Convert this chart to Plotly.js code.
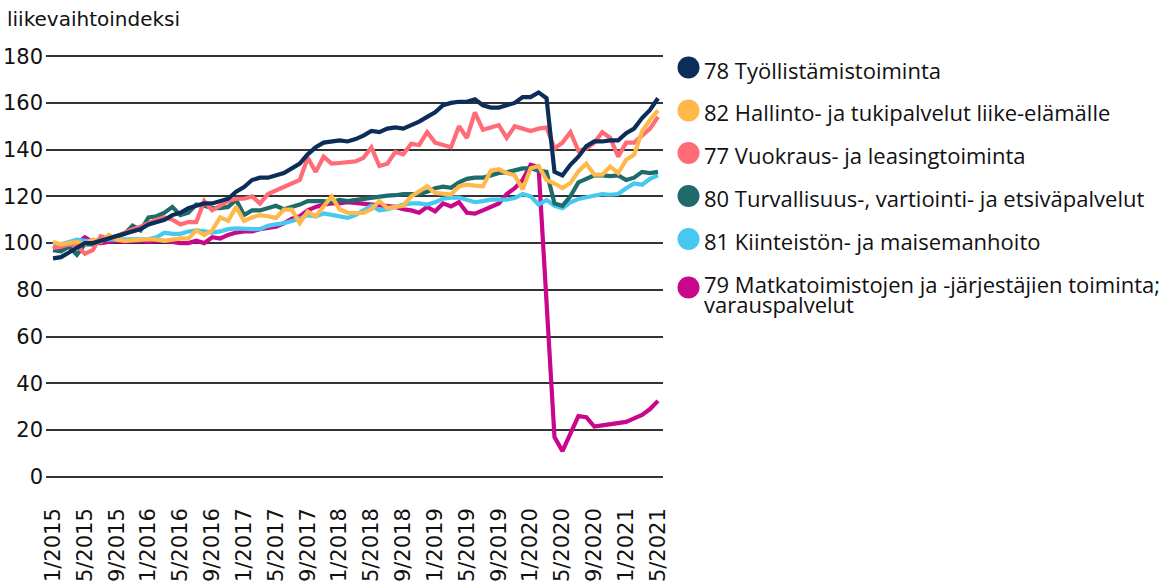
<!DOCTYPE html>
<html>
<head>
<meta charset="utf-8">
<script src="https://cdn.plot.ly/plotly-3.0.1.min.js"></script>
<style>
  html, body { margin: 0; padding: 0; background: #ffffff; }
  #chart { width: 1170px; height: 587px; }
</style>
</head>
<body>
<div id="chart"></div>
<script>
// Months 1/2015 ... 5/2021 (77 monthly observations), index 0..76
const monthLabels = [
  "1/2015","2/2015","3/2015","4/2015","5/2015","6/2015","7/2015","8/2015","9/2015","10/2015","11/2015","12/2015",
  "1/2016","2/2016","3/2016","4/2016","5/2016","6/2016","7/2016","8/2016","9/2016","10/2016","11/2016","12/2016",
  "1/2017","2/2017","3/2017","4/2017","5/2017","6/2017","7/2017","8/2017","9/2017","10/2017","11/2017","12/2017",
  "1/2018","2/2018","3/2018","4/2018","5/2018","6/2018","7/2018","8/2018","9/2018","10/2018","11/2018","12/2018",
  "1/2019","2/2019","3/2019","4/2019","5/2019","6/2019","7/2019","8/2019","9/2019","10/2019","11/2019","12/2019",
  "1/2020","2/2020","3/2020","4/2020","5/2020","6/2020","7/2020","8/2020","9/2020","10/2020","11/2020","12/2020",
  "1/2021","2/2021","3/2021","4/2021","5/2021"
];

// Tick labels shown on the x axis (every fourth month)
const tickLabels = ["1/2015","5/2015","9/2015","1/2016","5/2016","9/2016","1/2017","5/2017","9/2017","1/2018",
  "5/2018","9/2018","1/2019","5/2019","9/2019","1/2020","5/2020","9/2020","1/2021","5/2021"];

const yTicks = [0, 20, 40, 60, 80, 100, 120, 140, 160, 180];

const seriesNames = [
  "78 Työllistämistoiminta",
  "82 Hallinto- ja tukipalvelut liike-elämälle",
  "77 Vuokraus- ja leasingtoiminta",
  "80 Turvallisuus-, vartiointi- ja etsiväpalvelut",
  "81 Kiinteistön- ja maisemanhoito",
  "79 Matkatoimistojen ja -järjestäjien toiminta; varauspalvelut"
];

const s78 = [93.5,94,96,98,100,100,101,102,103,104,105,106,
  108,109,110,112,113,115,116,117,117,118,119,122,
  124,127,128,128,129,130,132,134,138,141,143,143.5,
  144,143.5,144.5,146,148,147.5,149,149.5,149,150.5,152,154,
  156,159,160,160.5,160.5,161.5,159,158,158,159,160,162.5,
  162.5,164.5,162,130.5,129,133.5,137,141.5,143.5,143.5,144,144,
  147,149,153.5,157,162];

const s82 = [100.5,99.5,100,100.5,99.5,101.5,100.5,103.5,101.5,101,101.2,101.5,
  101.7,101.5,101,101.5,102,102,105.5,103.5,105.5,111,109.5,115.5,
  109.5,111,112,111.5,110.8,114.3,114.3,108.6,113.5,111.5,116,120,
  114.5,113,112.9,112.9,114.5,118,115,115.5,116,120,122,124.3,
  121.5,121,120.8,124.3,125,124.6,124.3,131,131.6,130,129,123,
  132,133,127,125.5,123.6,125.7,130.7,134,129.3,129.3,132.8,130,
  135.7,137.8,147.8,152.8,156.8];

const s77 = [98,98.5,99.5,99,95.5,97,103,102,103,104.5,106,107,
  108.5,110,111,110,108,109,109,118,114,116,118,119,
  119,120,117,121,122.5,124,125.5,127,136.5,130.5,137,134,
  134.3,134.5,135,136.5,141,133,134,139,138,142.5,142,147.5,
  143,142,141,150,145,156,148.5,149.5,150.5,145,150,149,
  148,149,149.5,140.5,143,147.5,139.5,140.5,143,147.5,145,137,
  143,143,146,149,154];

const s80 = [97,96.5,98.5,95,99.5,99.5,101,102,103,104,107.5,105.5,
  111,111.5,113,115.5,112,113,116.5,116,115,115,115.5,118.5,
  112,114,114,115,116,114.5,115.5,116.5,118,118,118,117.5,
  118.5,118,118.5,119,119.3,120,120.3,120.5,121,121,121,122,
  123.5,124.2,123.7,126,127.5,128,128,129,130,130.3,131,132,
  132,131,130.5,117,116,120,126,127.5,129,129,128.7,129,
  127,128,130.5,130,130.5];

const s81 = [99,99.5,100.5,101.5,101,101,101.5,101.5,101.5,101.5,101.5,101.5,
  101.7,102.5,104.5,104,104,105,105.5,105,104.5,105,106,106.3,
  106,106,106,107.4,108,108.5,109.5,110.5,112,111.5,112.7,112,
  111.2,110.8,112,114,116,114,114.5,115.5,116.5,117,117,116.5,
  117.5,119,119.5,119.5,118.6,117.5,118,118.6,118.6,118.6,119.3,121,
  120,116.5,118.5,116,115,117.5,118.9,119.6,120.5,121,120.7,121,
  123.5,125.5,125,127.5,129];

const s79 = [97.5,98.5,99,100,102.5,100.5,100,100.5,101,100.5,101,101,
  100.5,101,101,100.5,100,100,101,100,102.5,102,103.5,104.5,
  105,105,106,106.5,107,108.5,110.5,111.5,114,115.5,116.5,117,
  117,117.5,117.2,116.7,116.4,116.4,116,115.5,114.5,114,113,115.5,
  113.6,117,115.7,117.5,113,112.6,114,115.5,117,121,123.5,127,
  133.5,132.5,75,17,11,18,26,25.5,21.5,22,22.5,23,
  23.5,25,26.5,29,32.5];

const seriesColors = ["#0c2d5a", "#ffb84a", "#ff6b76", "#1f6b6c", "#47c8ef", "#c8078a"];
const seriesValues = [s78, s82, s77, s80, s81, s79];

// drawing order: magenta at back, navy on top
const drawOrder = [5, 4, 3, 2, 1, 0];

const xIdx = monthLabels.map((_, i) => i);
const tickVals = tickLabels.map(t => monthLabels.indexOf(t));

const traces = drawOrder.map(k => ({
  type: "scatter",
  mode: "lines",
  x: xIdx,
  y: seriesValues[k],
  name: seriesNames[k],
  text: monthLabels,
  hovertemplate: "%{text}: %{y}<extra>" + seriesNames[k] + "</extra>",
  line: { color: seriesColors[k], width: 4.2, shape: "linear" },
  showlegend: false
}));

// Manual legend (circles + text) to the right of the plot
const plotLeft = 46, plotRight = 663, plotTop = 55, plotBottom = 478;
const pw = plotRight - plotLeft, ph = plotBottom - plotTop;
const px2x = px => (px - plotLeft) / pw;
const py2y = py => (plotBottom - py) / ph;

const legendCircleY = [67.5, 110.5, 153, 196, 239, 287.5];
const legendTextY = [69.5, 112, 155, 197.5, 240.5, 283.5];
const legendFont = { family: "'Open Sans', Lato, sans-serif", size: 22, color: "#111111" };
const tickFontFamily = "'DejaVu Sans', Verdana, sans-serif";

const shapes = [];
const annotations = [];
seriesNames.forEach((nm, k) => {
  shapes.push({
    type: "circle", xref: "paper", yref: "paper",
    xsizemode: "pixel", ysizemode: "pixel",
    xanchor: px2x(688.5), yanchor: py2y(legendCircleY[k]),
    x0: -11, x1: 11, y0: -11, y1: 11,
    fillcolor: seriesColors[k], line: { width: 0 }
  });
  if (k === 5) {
    annotations.push({
      xref: "paper", yref: "paper", x: px2x(703), y: py2y(legendTextY[k]),
      xanchor: "left", yanchor: "middle", showarrow: false, borderpad: 0,
      text: "79 Matkatoimistojen ja -järjestäjien toiminta;", font: legendFont
    });
    annotations.push({
      xref: "paper", yref: "paper", x: px2x(703), y: py2y(304),
      xanchor: "left", yanchor: "middle", showarrow: false, borderpad: 0,
      text: "varauspalvelut", font: legendFont
    });
  } else {
    annotations.push({
      xref: "paper", yref: "paper", x: px2x(703), y: py2y(legendTextY[k]),
      xanchor: "left", yanchor: "middle", showarrow: false, borderpad: 0,
      text: nm, font: legendFont
    });
  }
});

const layout = {
  width: 1170, height: 587,
  margin: { l: plotLeft, r: 1170 - plotRight, t: plotTop, b: 587 - plotBottom },
  paper_bgcolor: "#ffffff",
  plot_bgcolor: "#ffffff",
  font: { family: tickFontFamily, size: 20, color: "#111111" },
  title: {
    text: "liikevaihtoindeksi",
    xref: "container", yref: "container",
    x: 7 / 1170, xanchor: "left",
    y: 1 - 19 / 587, yanchor: "middle",
    font: { family: tickFontFamily, size: 20, color: "#111111" }
  },
  xaxis: {
    range: [-0.88, 76.63],
    tickmode: "array",
    tickvals: tickVals,
    ticktext: tickLabels,
    tickangle: -90,
    ticks: "",
    ticklabelstandoff: 25,
    showgrid: false,
    zeroline: false,
    showline: false,
    tickfont: { family: tickFontFamily, size: 21, color: "#111111" },
    fixedrange: true
  },
  yaxis: {
    range: [-0.5, 180.5],
    tickmode: "array",
    tickvals: yTicks,
    ticktext: yTicks.map(String),
    ticks: "",
    ticklabelstandoff: 2,
    showgrid: true,
    gridcolor: "#333333",
    gridwidth: 1.5,
    zeroline: false,
    showline: false,
    tickfont: { family: tickFontFamily, size: 21, color: "#111111" },
    fixedrange: true
  },
  shapes: shapes,
  annotations: annotations,
  showlegend: false,
  hovermode: "closest"
};

Plotly.newPlot("chart", traces, layout, { displayModeBar: false, responsive: false });
</script>
</body>
</html>
